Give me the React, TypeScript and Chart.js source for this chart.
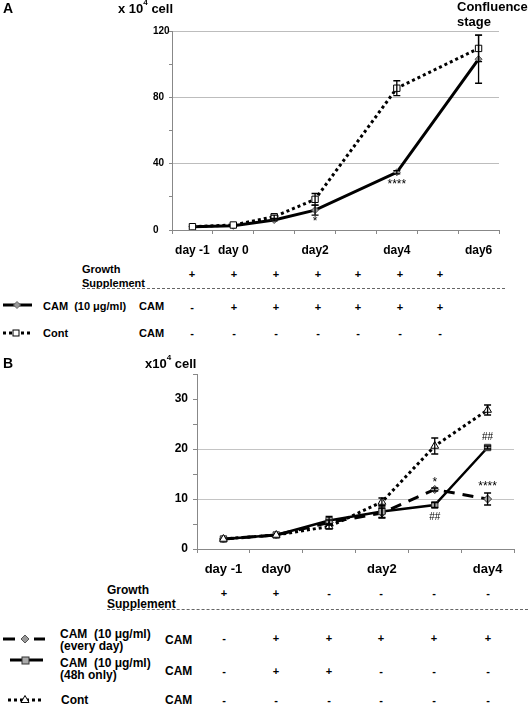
import React, { useEffect, useRef } from 'react';
import { Chart, registerables } from 'chart.js';

Chart.register(...registerables);

// ---------- Panel A data ----------
const labelsA = ['day -1', 'day 0', '', 'day2', '', 'day4', '', 'day6'];
const contA = [2, 3, 8, 18.5, null, 85.5, null, 109.5];
const contAErr = [0, 0, 1, 3.5, null, 4.5, null, 8];
const camA = [2, 2.5, 6, 12, null, 34.8, null, 103];
const camAErr = [0, 0, 0.5, 3, null, 1, null, 14.5];
const yTicksA = [0, 40, 80, 120];

// ---------- Panel B data ----------
const labelsB = ['day -1', 'day0', '', 'day2', '', 'day4'];
const everyB = [2, 2.8, 5.3, 7.2, 11.9, 10.0];
const everyBErr = [0, 0, 0.5, 1, 0.3, 1.2];
const h48B = [2, 2.8, 5.7, 7.5, 8.8, 20.3];
const h48BErr = [0, 0, 0.8, 1.2, 0.5, 0.3];
const contB = [2, 2.8, 4.5, 9.4, 20.6, 27.8];
const contBErr = [0, 0, 0.5, 0.8, 1.6, 1];
const yTicksB = [0, 10, 20, 30];

// table rows
const growthA = ['+', '+', '+', '+', '+', '+', '+'];
const camRowA = ['-', '+', '+', '+', '+', '+', '+'];
const contRowA = ['-', '-', '-', '-', '-', '-', '-'];
const growthB = ['+', '+', '-', '-', '-', '-'];
const everyRowB = ['-', '+', '+', '+', '+', '+'];
const h48RowB = ['-', '+', '+', '-', '-', '-'];
const contRowB = ['-', '-', '-', '-', '-', '-'];

const FONT = '"Liberation Sans", Arial, Helvetica, sans-serif';

const errPlugin = {
  id: 'errbars',
  afterDatasetsDraw(chart: any, _args: any, opts: any) {
    const { ctx } = chart;
    const ys = chart.scales.y;
    chart.data.datasets.forEach((ds: any, di: number) => {
      const errs = ds.errors;
      if (!errs) return;
      const meta = chart.getDatasetMeta(di);
      meta.data.forEach((pt: any, i: number) => {
        const v = ds.data[i];
        const e = errs[i];
        if (v == null || !e) return;
        const x = pt.x;
        const top = ys.getPixelForValue(v + e);
        const bot = ys.getPixelForValue(v - e);
        ctx.save();
        ctx.strokeStyle = '#000';
        ctx.lineWidth = 1.3;
        ctx.setLineDash([]);
        ctx.beginPath();
        ctx.moveTo(x, top); ctx.lineTo(x, bot);
        ctx.moveTo(x - 3.5, top); ctx.lineTo(x + 3.5, top);
        ctx.moveTo(x - 3.5, bot); ctx.lineTo(x + 3.5, bot);
        ctx.stroke();
        ctx.restore();
      });
    });
    const notes = (opts && opts.notes) || [];
    notes.forEach((n: any) => {
      const meta = chart.getDatasetMeta(n.ds);
      const pt = meta.data[n.i];
      if (!pt) return;
      ctx.save();
      ctx.fillStyle = '#000';
      ctx.font = `${n.size || 11}px ${FONT}`;
      ctx.textAlign = 'center';
      ctx.textBaseline = 'middle';
      ctx.fillText(n.text, pt.x + (n.dx || 0), pt.y + n.dy);
      ctx.restore();
    });
  },
};

function useChart(ref: React.RefObject<HTMLCanvasElement>, make: () => any) {
  useEffect(() => {
    if (!ref.current) return;
    const c = new Chart(ref.current, make());
    return () => c.destroy();
  }, []);
}

const T = ({ x, y, size = 12, bold = true, center = false, children }: any) => (
  <div
    style={{
      position: 'absolute',
      left: x,
      top: y,
      transform: `translate(${center ? '-50%' : '0'}, -50%)`,
      fontFamily: FONT,
      fontSize: size,
      fontWeight: bold ? 'bold' : 'normal',
      lineHeight: 1,
      whiteSpace: 'pre',
      color: '#000',
    }}
  >
    {children}
  </div>
);

const Glyph = ({ x, y, w, h, children }: any) => (
  <svg style={{ position: 'absolute', left: x, top: y }} width={w} height={h}>
    {children}
  </svg>
);

export default function App() {
  const refA = useRef<HTMLCanvasElement>(null);
  const refB = useRef<HTMLCanvasElement>(null);

  useChart(refA, () => ({
    type: 'line',
    data: {
      labels: labelsA,
      datasets: [
        {
          label: 'Cont',
          data: contA,
          errors: contAErr,
          borderColor: '#000',
          borderWidth: 3,
          borderDash: [3, 3],
          borderCapStyle: 'butt',
          pointStyle: 'rect',
          pointRadius: 4.5,
          pointBackgroundColor: '#fff',
          pointBorderColor: '#000',
          pointBorderWidth: 1,
          spanGaps: true,
          tension: 0,
        },
        {
          label: 'CAM',
          data: camA,
          errors: camAErr,
          borderColor: '#000',
          borderWidth: 3,
          pointStyle: 'rectRot',
          pointRadius: 3.5,
          pointBackgroundColor: '#999',
          pointBorderColor: '#555',
          pointBorderWidth: 1,
          spanGaps: true,
          tension: 0,
        },
      ],
    },
    options: {
      responsive: false,
      animation: false,
      events: [],
      layout: { padding: { left: 153, right: 29, top: 31, bottom: 0 } },
      plugins: {
        legend: { display: false },
        tooltip: { enabled: false },
        errbars: {
          notes: [
            { ds: 1, i: 3, text: '*', dy: 12, size: 12 },
            { ds: 1, i: 5, text: '****', dy: 12, size: 12 },
          ],
        },
      },
      scales: {
        x: {
          type: 'category',
          offset: true,
          afterFit: (s: any) => { s.height = 30; },
          grid: { offset: true, drawOnChartArea: false, tickLength: 4, color: '#888' },
          border: { color: '#888' },
          ticks: {
            autoSkip: false,
            maxRotation: 0,
            padding: 9,
            color: '#000',
            font: { family: FONT, size: 12, weight: 'bold' },
          },
        },
        y: {
          min: 0,
          max: 120,
          afterFit: (s: any) => { s.width = 19; },
          grid: {
            color: (c: any) => (c.tick && c.tick.value > 0 && yTicksA.includes(c.tick.value) ? '#bdbdbd' : 'transparent'),
            tickColor: '#888',
            tickLength: 3,
          },
          border: { color: '#888' },
          ticks: {
            stepSize: 20,
            crossAlign: 'far',
            color: '#000',
            font: { family: FONT, size: 10, weight: 'bold' },
            callback: (v: any) => (yTicksA.includes(v) ? String(v) : ''),
          },
        },
      },
    },
    plugins: [errPlugin],
  }));

  useChart(refB, () => ({
    type: 'line',
    data: {
      labels: labelsB,
      datasets: [
        {
          label: 'Cont',
          data: contB,
          errors: contBErr,
          borderColor: '#000',
          borderWidth: 3,
          borderDash: [3, 3],
          borderCapStyle: 'butt',
          pointStyle: 'triangle',
          pointRadius: 4.5,
          pointBackgroundColor: '#fff',
          pointBorderColor: '#000',
          pointBorderWidth: 1,
          tension: 0,
        },
        {
          label: '48h',
          data: h48B,
          errors: h48BErr,
          borderColor: '#000',
          borderWidth: 2.5,
          pointStyle: 'rect',
          pointRadius: 4.5,
          pointBackgroundColor: '#aaa',
          pointBorderColor: '#333',
          pointBorderWidth: 1,
          tension: 0,
        },
        {
          label: 'every day',
          data: everyB,
          errors: everyBErr,
          borderColor: '#000',
          borderWidth: 3,
          borderDash: [11, 8],
          borderCapStyle: 'butt',
          pointStyle: 'rectRot',
          pointRadius: 4,
          pointBackgroundColor: '#aaa',
          pointBorderColor: '#333',
          pointBorderWidth: 1,
          tension: 0,
        },
      ],
    },
    options: {
      responsive: false,
      animation: false,
      events: [],
      layout: { padding: { left: 157, right: 14, top: 19, bottom: 0 } },
      plugins: {
        legend: { display: false },
        tooltip: { enabled: false },
        errbars: {
          notes: [
            { ds: 1, i: 5, text: '##', dy: -10, size: 10 },
            { ds: 2, i: 4, text: '*', dy: -7, size: 12 },
            { ds: 2, i: 5, text: '****', dy: -12, size: 12 },
            { ds: 1, i: 4, text: '##', dy: 12, size: 10 },
          ],
        },
      },
      scales: {
        x: {
          type: 'category',
          offset: true,
          afterFit: (s: any) => { s.height = 30; },
          grid: { offset: true, drawOnChartArea: false, tickLength: 4, color: '#888' },
          border: { color: '#888' },
          ticks: {
            autoSkip: false,
            maxRotation: 0,
            padding: 9,
            color: '#000',
            font: { family: FONT, size: 13, weight: 'bold' },
          },
        },
        y: {
          min: 0,
          max: 35,
          afterFit: (s: any) => { s.width = 40; },
          grid: {
            color: (c: any) => (c.tick && (c.tick.value === 10 || c.tick.value === 20) ? '#c4c4c4' : 'transparent'),
            tickColor: '#888',
            tickLength: 4,
          },
          border: { color: '#888' },
          ticks: {
            stepSize: 5,
            padding: 5,
            color: '#000',
            font: { family: FONT, size: 12, weight: 'bold' },
            callback: (v: any) => (yTicksB.includes(v) ? String(v) : ''),
          },
        },
      },
    },
    plugins: [errPlugin],
  }));

  const xsA = [192, 234, 276, 318, 358, 400, 440];
  const xsB = [224, 276, 329, 381, 434, 488];

  return (
    <div style={{ position: 'absolute', left: 0, top: 0, width: 528, height: 707, background: '#fff', overflow: 'hidden' }}>
      <canvas ref={refA} width={528} height={260} style={{ position: 'absolute', left: 0, top: 0 }} />
      <canvas ref={refB} width={528} height={224} style={{ position: 'absolute', left: 0, top: 355 }} />

      {/* Panel A labels */}
      <T x={3} y={8} size={14}>A</T>
      <T x={118} y={8} size={13}>
        x 10<sup style={{ fontSize: 8, verticalAlign: 'top', lineHeight: 0, position: 'relative', top: 1 }}>4</sup> cell
      </T>
      <T x={457} y={6} size={13}>Confluence</T>
      <T x={457} y={21} size={13}>stage</T>

      {/* Panel A table */}
      <T x={82} y={269} size={11}>Growth</T>
      <T x={82} y={283} size={11}>Supplement</T>
      {growthA.map((s, i) => (
        <T key={'ga' + i} x={xsA[i]} y={274} size={11} center>{s}</T>
      ))}
      <div style={{ position: 'absolute', left: 82, top: 288, width: 423, borderTop: '1px dashed #666' }} />

      <Glyph x={0} y={298} w={40} h={14}>
        <line x1={3} y1={7} x2={32} y2={7} stroke="#000" strokeWidth={3} />
        <polygon points="17,3.5 20.5,7 17,10.5 13.5,7" fill="#999" stroke="#666" strokeWidth={1} />
      </Glyph>
      <T x={43} y={306} size={11}>CAM  (10 μg/ml)</T>
      <T x={139} y={306} size={11}>CAM</T>
      {camRowA.map((s, i) => (
        <T key={'ca' + i} x={xsA[i]} y={307} size={11} center>{s}</T>
      ))}

      <Glyph x={0} y={326} w={40} h={14}>
        <line x1={3} y1={7} x2={32} y2={7} stroke="#000" strokeWidth={3} strokeDasharray="3 3" />
        <rect x={13} y={4} width={6} height={6} fill="#fff" stroke="#000" strokeWidth={1} />
      </Glyph>
      <T x={43} y={333} size={11}>Cont</T>
      <T x={139} y={333} size={11}>CAM</T>
      {contRowA.map((s, i) => (
        <T key={'co' + i} x={xsA[i]} y={333} size={11} center>{s}</T>
      ))}

      {/* Panel B labels */}
      <T x={3} y={363} size={14}>B</T>
      <T x={145} y={363} size={13}>
        x10<sup style={{ fontSize: 8, verticalAlign: 'top', lineHeight: 0, position: 'relative', top: 1 }}>4</sup> cell
      </T>

      {/* Panel B table */}
      <T x={107} y={590} size={12}>Growth</T>
      <T x={107} y={604} size={12}>Supplement</T>
      {growthB.map((s, i) => (
        <T key={'gb' + i} x={xsB[i]} y={593} size={11} center>{s}</T>
      ))}
      <div style={{ position: 'absolute', left: 107, top: 609, width: 421, borderTop: '1px dashed #666' }} />

      <Glyph x={0} y={632} w={50} h={14}>
        <line x1={3} y1={7} x2={15} y2={7} stroke="#000" strokeWidth={3} />
        <line x1={34} y1={7} x2={45} y2={7} stroke="#000" strokeWidth={3} />
        <polygon points="25,3 29,7 25,11 21,7" fill="#999" stroke="#555" strokeWidth={1} />
      </Glyph>
      <T x={60} y={634} size={12}>CAM  (10 μg/ml)</T>
      <T x={60} y={646} size={12}>(every day)</T>
      <T x={165} y={640} size={12}>CAM</T>
      {everyRowB.map((s, i) => (
        <T key={'eb' + i} x={xsB[i]} y={638} size={11} center>{s}</T>
      ))}

      <Glyph x={0} y={653} w={50} h={14}>
        <line x1={10} y1={7} x2={43} y2={7} stroke="#000" strokeWidth={3} />
        <rect x={22} y={4} width={7} height={7} fill="#aaa" stroke="#333" strokeWidth={1} />
      </Glyph>
      <T x={60} y={663} size={12}>CAM  (10 μg/ml)</T>
      <T x={60} y={675} size={12}>(48h only)</T>
      <T x={165} y={671} size={12}>CAM</T>
      {h48RowB.map((s, i) => (
        <T key={'hb' + i} x={xsB[i]} y={671} size={11} center>{s}</T>
      ))}

      <Glyph x={0} y={692} w={50} h={14}>
        <line x1={8} y1={8} x2={42} y2={8} stroke="#000" strokeWidth={3} strokeDasharray="3 3" />
        <polygon points="25,3.5 29,10.5 21,10.5" fill="#fff" stroke="#000" strokeWidth={1} />
      </Glyph>
      <T x={61} y={700} size={12}>Cont</T>
      <T x={165} y={700} size={12}>CAM</T>
      {contRowB.map((s, i) => (
        <T key={'cb' + i} x={xsB[i]} y={700} size={11} center>{s}</T>
      ))}
    </div>
  );
}
